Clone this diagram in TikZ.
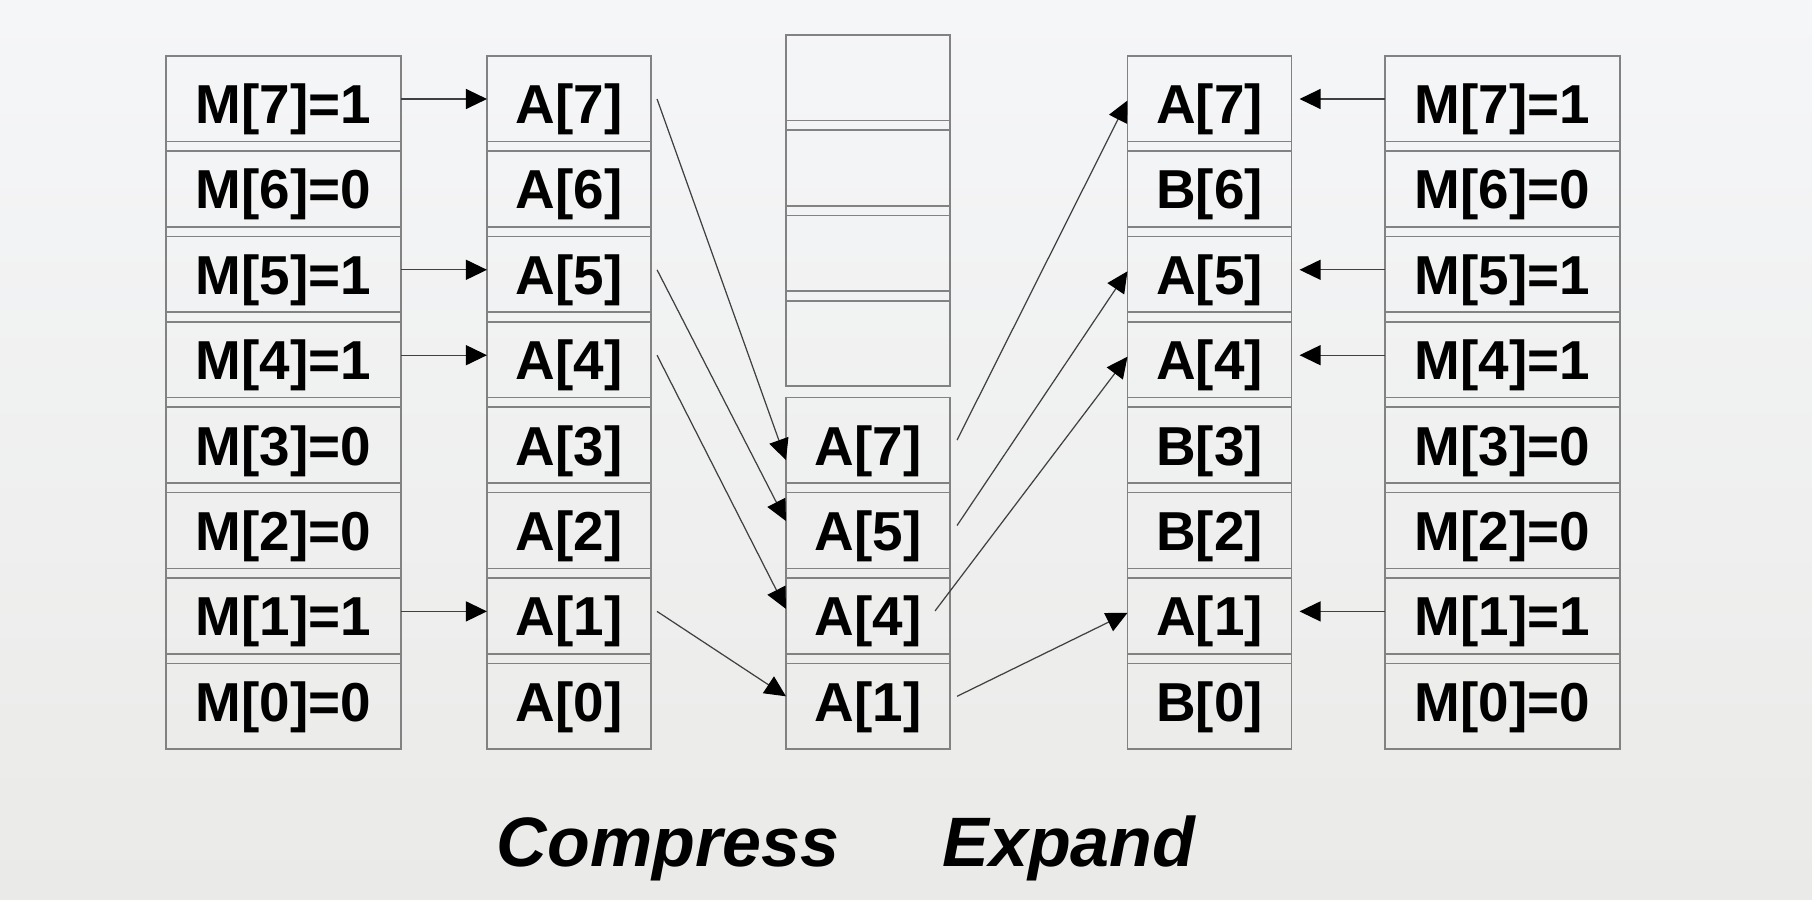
\documentclass[tikz,border=0pt]{standalone}
\usepackage{fontspec}
\setmainfont{Liberation Sans}
\usetikzlibrary{arrows.meta}
\definecolor{bgtop}{RGB}{245,246,248}
\definecolor{bgbot}{RGB}{234,234,232}
\definecolor{boxline}{RGB}{130,130,130}

\begin{document}
\begin{tikzpicture}[x=0.01cm, y=-0.01cm,
  cell/.style={draw=boxline, line width=0.45pt, inner sep=0pt, outer sep=0pt,
    minimum height=0.95cm, text height=0.4cm, text depth=0cm,
    font=\fontsize{15.6}{18}\selectfont\bfseries},
  mcell/.style={cell, minimum width=2.35cm},
  acell/.style={cell, minimum width=1.64cm},
  conn/.style={draw=black!75, line width=0.35pt, -{Triangle[length=0.21cm, width=0.2cm, black]}},
  title/.style={anchor=base, font=\fontsize{19.9}{24}\selectfont\bfseries\itshape}]
 \useasboundingbox (0,0) rectangle (1812,900);
 \fill[top color=bgtop, bottom color=bgbot] (0,0) rectangle (1812,900);
 % mask, source, expanded and mask columns
 \foreach \i/\b in {7/1,6/0,5/1,4/1,3/0,2/0,1/1,0/0}{
   \node[mcell] (m\i) at (283.5,{103.5+85.4*(7-\i)}) {M[\i]=\b};
   \node[acell] (a\i) at (569,{103.5+85.4*(7-\i)}) {A[\i]};
   \node[acell] (e\i) at (1209.5,{103.5+85.4*(7-\i)}) {\ifnum\b=1 A\else B\fi[\i]};
   \node[mcell] (r\i) at (1502.5,{103.5+85.4*(7-\i)}) {M[\i]=\b};
 }
 % compressed column
 \foreach \k in {0,...,3}
   \node[acell] (x\k) at (868,{82.5+85.4*\k}) {};
 \foreach \i/\k in {7/4,5/5,4/6,1/7}
   \node[acell] (c\i) at (868,{103.5+85.4*\k}) {A[\i]};
 % arrows
 \foreach \i in {7,5,4,1}{
   \draw[conn] ([yshift=0.045cm]m\i.east) -- ([yshift=0.045cm]a\i.west);
   \draw[conn, shorten >=0.08cm] ([yshift=0.045cm]r\i.west) -- ([yshift=0.045cm]e\i.east);
 }
 \foreach \i/\dy in {7/15,5/-9.5,4/-7,1/-5}
   \draw[conn] ([shift={(6,-4.5)}]a\i.east) -- ([shift={(0,\dy)}]c\i.west);
 \foreach \i/\dx in {7/7,5/7,4/-15,1/7}
   \draw[conn] ([shift={(\dx,-5)}]c\i.east) -- ([shift={(0,-3)}]e\i.west);
 % captions
 \node[title] (cmp) at (668,866) {Compress};
 \node[title] (exp) at (1069,866) {Expand};
\end{tikzpicture}
\end{document}
